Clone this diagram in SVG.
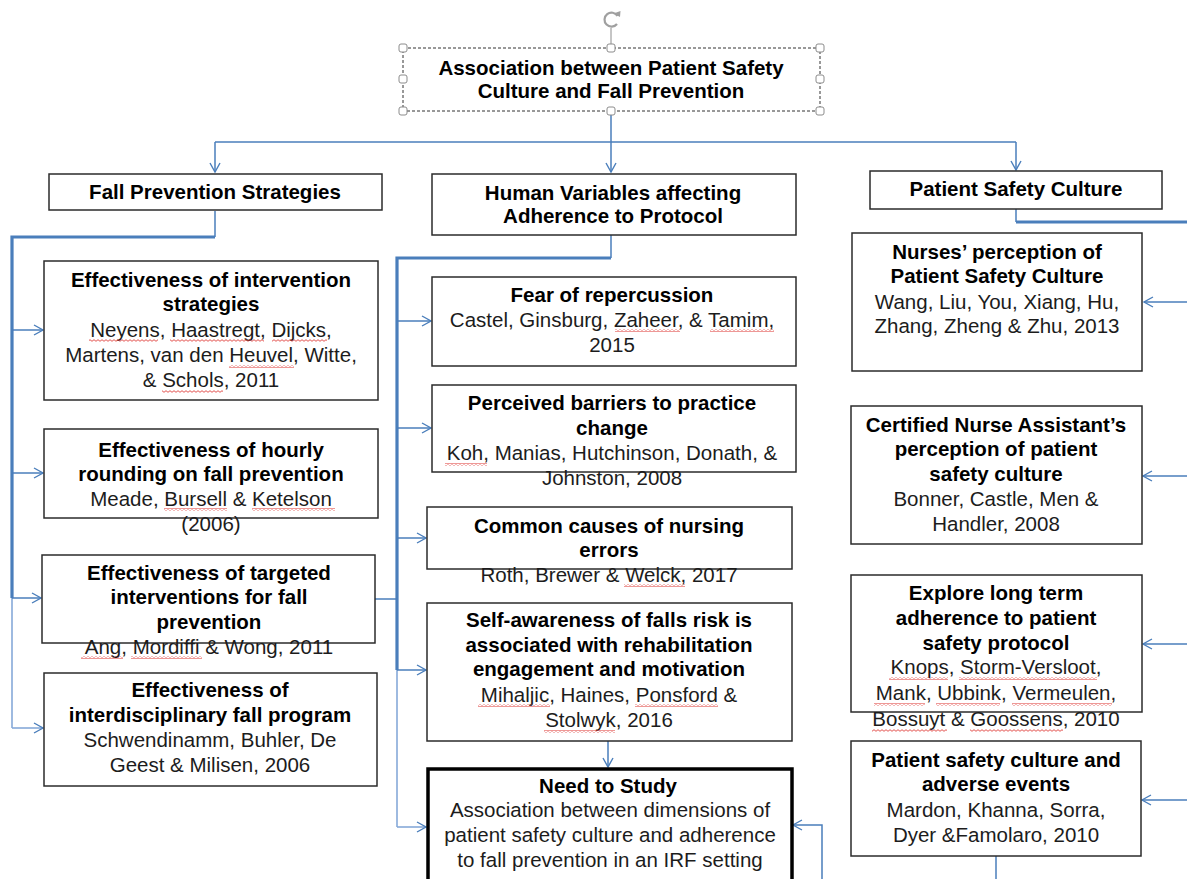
<svg xmlns="http://www.w3.org/2000/svg" width="1187" height="879" viewBox="0 0 1187 879">
<style>
.box{fill:#fff;stroke:#2b2b2b;stroke-width:1.5}
.t{font-family:"Liberation Sans",Arial,sans-serif;font-size:20.5px;text-anchor:middle}
.b{font-weight:bold;fill:#000}
.r{fill:#1c1c1c}
.c{fill:none;stroke:#4a7ebb;stroke-width:1.5}
.k{fill:none;stroke:#4a7ebb;stroke-width:3.2}
.l{fill:none;stroke:#86a9d9;stroke-width:1.6}
.h{fill:#fff;stroke:#8c8c8c;stroke-width:1}
.sq{fill:url(#sq)}
</style>
<defs>
<marker id="a" markerWidth="12" markerHeight="12" refX="10" refY="6" orient="auto" markerUnits="userSpaceOnUse">
<path d="M1,1 L10,6 L1,11" fill="none" stroke="#4a7ebb" stroke-width="1.4"/>
</marker>
<pattern id="sq" width="4" height="3" patternUnits="userSpaceOnUse">
<path d="M0,2.3 L2,0.7 L4,2.3" fill="none" stroke="#e0403c" stroke-width="0.9"/>
</pattern>
</defs>
<rect width="1187" height="879" fill="#fff"/>

<g id="connectors">
<path class="c" d="M611,111 V142"/>
<path class="c" d="M215,142 H1016"/>
<path class="c" d="M215,142 V172" marker-end="url(#a)"/>
<path class="c" d="M611,142 V172" marker-end="url(#a)"/>
<path class="c" d="M1016,142 V170" marker-end="url(#a)"/>
<path class="c" d="M215,211 V237"/>
<path class="k" d="M215,237 H12 V598"/>
<path class="l" d="M12,598 V728"/>
<path class="c" d="M12,330 H43" marker-end="url(#a)"/>
<path class="c" d="M12,473 H43" marker-end="url(#a)"/>
<path class="c" d="M12,598 H41" marker-end="url(#a)"/>
<path class="l" d="M12,728 H43" marker-end="url(#a)"/>
<path class="c" d="M611,235 V258"/>
<path class="k" d="M611,258 H397 V670"/>
<path class="l" d="M397,670 V827"/>
<path class="c" d="M397,321 H431" marker-end="url(#a)"/>
<path class="c" d="M397,428 H431" marker-end="url(#a)"/>
<path class="c" d="M397,538 H426" marker-end="url(#a)"/>
<path class="c" d="M397,670 H426" marker-end="url(#a)"/>
<path class="l" d="M397,827 H426" marker-end="url(#a)"/>
<path class="c" d="M375,599 H397"/>
<path class="c" d="M608,741 V767" marker-end="url(#a)"/>
<path class="c" d="M822,879 V825 H793" marker-end="url(#a)"/>
<path class="c" d="M1016,209 V222"/>
<path class="k" d="M1016,222 H1187"/>
<path class="c" d="M1187,302 H1144" marker-end="url(#a)"/>
<path class="c" d="M1187,476 H1143" marker-end="url(#a)"/>
<path class="c" d="M1187,644 H1143" marker-end="url(#a)"/>
<path class="c" d="M1187,800 H1142" marker-end="url(#a)"/>
<path class="c" d="M996,856 V879"/>
</g>

<g id="title">
<rect x="403" y="48" width="417" height="63" fill="#fff" stroke="#333" stroke-width="1" stroke-dasharray="3 2"/>
<line x1="611" y1="28" x2="611" y2="44" stroke="#8c8c8c" stroke-width="1"/>
<path d="M617,24 A7,7 0 1 1 617.5,16" fill="none" stroke="#a0a0a0" stroke-width="2.2"/>
<path d="M613.5,13.5 L620,17 L620.5,11 Z" fill="#a0a0a0"/>
<rect class="h" x="399" y="44" width="8" height="8" rx="2"/>
<rect class="h" x="607" y="44" width="8" height="8" rx="2"/>
<rect class="h" x="816" y="44" width="8" height="8" rx="2"/>
<rect class="h" x="399" y="75" width="8" height="8" rx="2"/>
<rect class="h" x="816" y="75" width="8" height="8" rx="2"/>
<rect class="h" x="399" y="107" width="8" height="8" rx="2"/>
<rect class="h" x="607" y="107" width="8" height="8" rx="2"/>
<rect class="h" x="816" y="107" width="8" height="8" rx="2"/>
<text class="t b" x="611" y="75">Association between Patient Safety</text>
<text class="t b" x="611" y="98">Culture and Fall Prevention</text>
</g>

<g id="fall-prevention-strategies">
<rect class="box" x="49" y="174" width="333" height="36"/>
<text class="t b" x="215" y="199">Fall Prevention Strategies</text>
</g>
<g id="human-variables">
<rect class="box" x="432" y="174" width="364" height="61"/>
<text class="t b" x="613" y="200">Human Variables affecting</text>
<text class="t b" x="613" y="223">Adherence to Protocol</text>
</g>
<g id="patient-safety-culture">
<rect class="box" x="870" y="171" width="292" height="38"/>
<text class="t b" x="1016" y="196">Patient Safety Culture</text>
</g>

<g id="intervention-strategies">
<rect class="box" x="44" y="261" width="334" height="139"/>
<text class="t b" x="211" y="287">Effectiveness of intervention</text>
<text class="t b" x="211" y="311">strategies</text>
<text class="t r" x="211" y="337">Neyens, Haastregt, Dijcks,</text>
<text class="t r" x="211" y="362">Martens, van den Heuvel, Witte,</text>
<text class="t r" x="211" y="387">&amp; Schols, 2011</text>
<rect class="sq" x="89" y="339" width="69" height="3"/>
<rect class="sq" x="170" y="339" width="94" height="3"/>
<rect class="sq" x="272" y="339" width="55" height="3"/>
<rect class="sq" x="229" y="365" width="65" height="3"/>
<rect class="sq" x="162" y="390" width="61" height="3"/>
</g>
<g id="hourly-rounding">
<rect class="box" x="44" y="429" width="334" height="89"/>
<text class="t b" x="211" y="457">Effectiveness of hourly</text>
<text class="t b" x="211" y="481">rounding on fall prevention</text>
<text class="t r" x="211" y="506">Meade, Bursell &amp; Ketelson</text>
<text class="t r" x="211" y="531">(2006)</text>
<rect class="sq" x="164" y="508" width="63" height="3"/>
<rect class="sq" x="252" y="508" width="83" height="3"/>
</g>
<g id="targeted-interventions">
<rect class="box" x="42" y="555" width="333" height="88"/>
<text class="t b" x="209" y="580">Effectiveness of targeted</text>
<text class="t b" x="209" y="604">interventions for fall</text>
<text class="t b" x="209" y="629">prevention</text>
<text class="t r" x="209" y="654">Ang, Mordiffi &amp; Wong, 2011</text>
<rect class="sq" x="81" y="656" width="42" height="3"/>
<rect class="sq" x="131" y="656" width="71" height="3"/>
</g>
<g id="interdisciplinary-program">
<rect class="box" x="44" y="673" width="333" height="113"/>
<text class="t b" x="210" y="697">Effectiveness of</text>
<text class="t b" x="210" y="722">interdisciplinary fall program</text>
<text class="t r" x="210" y="747">Schwendinamm, Buhler, De</text>
<text class="t r" x="210" y="772">Geest &amp; Milisen, 2006</text>
</g>

<g id="fear-of-repercussion">
<rect class="box" x="432" y="277" width="364" height="89"/>
<text class="t b" x="612" y="302">Fear of repercussion</text>
<text class="t r" x="612" y="327">Castel, Ginsburg, Zaheer, &amp; Tamim,</text>
<text class="t r" x="612" y="352">2015</text>
<rect class="sq" x="615" y="329" width="65" height="3"/>
<rect class="sq" x="710" y="329" width="64" height="3"/>
</g>
<g id="perceived-barriers">
<rect class="box" x="432" y="385" width="364" height="87"/>
<text class="t b" x="612" y="410">Perceived barriers to practice</text>
<text class="t b" x="612" y="435">change</text>
<text class="t r" x="612" y="460">Koh, Manias, Hutchinson, Donath, &amp;</text>
<text class="t r" x="612" y="485">Johnston, 2008</text>
<rect class="sq" x="445" y="463" width="42" height="3"/>
</g>
<g id="nursing-errors">
<rect class="box" x="427" y="507" width="365" height="62"/>
<text class="t b" x="609" y="533">Common causes of nursing</text>
<text class="t b" x="609" y="557">errors</text>
<text class="t r" x="609" y="582">Roth, Brewer &amp; Welck, 2017</text>
<rect class="sq" x="624" y="584" width="61" height="3"/>
</g>
<g id="self-awareness">
<rect class="box" x="427" y="603" width="365" height="138"/>
<text class="t b" x="609" y="627">Self-awareness of falls risk is</text>
<text class="t b" x="609" y="652">associated with rehabilitation</text>
<text class="t b" x="609" y="676">engagement and motivation</text>
<text class="t r" x="609" y="702">Mihaljic, Haines, Ponsford &amp;</text>
<text class="t r" x="609" y="727">Stolwyk, 2016</text>
<rect class="sq" x="478" y="704" width="72" height="3"/>
<rect class="sq" x="635" y="704" width="83" height="3"/>
<rect class="sq" x="544" y="730" width="71" height="3"/>
</g>
<g id="need-to-study">
<rect x="428" y="769" width="364" height="130" fill="#fff" stroke="#000" stroke-width="3.5"/>
<text class="t b" x="608" y="793">Need to Study</text>
<text class="t r" x="610" y="817">Association between dimensions of</text>
<text class="t r" x="610" y="842">patient safety culture and adherence</text>
<text class="t r" x="610" y="867">to fall prevention in an IRF setting</text>
</g>

<g id="nurses-perception">
<rect class="box" x="852" y="233" width="290" height="138"/>
<text class="t b" x="997" y="259">Nurses’ perception of</text>
<text class="t b" x="997" y="283">Patient Safety Culture</text>
<text class="t r" x="997" y="309">Wang, Liu, You, Xiang, Hu,</text>
<text class="t r" x="997" y="333">Zhang, Zheng &amp; Zhu, 2013</text>
</g>
<g id="cna-perception">
<rect class="box" x="851" y="406" width="291" height="138"/>
<text class="t b" x="996" y="432">Certified Nurse Assistant’s</text>
<text class="t b" x="996" y="456">perception of patient</text>
<text class="t b" x="996" y="481">safety culture</text>
<text class="t r" x="996" y="506">Bonner, Castle, Men &amp;</text>
<text class="t r" x="996" y="531">Handler, 2008</text>
</g>
<g id="long-term-adherence">
<rect class="box" x="851" y="575" width="291" height="137"/>
<text class="t b" x="996" y="600">Explore long term</text>
<text class="t b" x="996" y="625">adherence to patient</text>
<text class="t b" x="996" y="650">safety protocol</text>
<text class="t r" x="996" y="674">Knops, Storm-Versloot,</text>
<text class="t r" x="996" y="700">Mank, Ubbink, Vermeulen,</text>
<text class="t r" x="996" y="726">Bossuyt &amp; Goossens, 2010</text>
<rect class="sq" x="889" y="677" width="59" height="3"/>
<rect class="sq" x="959" y="677" width="138" height="3"/>
<rect class="sq" x="874" y="703" width="51" height="3"/>
<rect class="sq" x="936" y="703" width="64" height="3"/>
<rect class="sq" x="1012" y="703" width="100" height="3"/>
<rect class="sq" x="872" y="729" width="75" height="3"/>
<rect class="sq" x="970" y="729" width="93" height="3"/>
</g>
<g id="adverse-events">
<rect class="box" x="851" y="741" width="290" height="115"/>
<text class="t b" x="996" y="767">Patient safety culture and</text>
<text class="t b" x="996" y="791">adverse events</text>
<text class="t r" x="996" y="817">Mardon, Khanna, Sorra,</text>
<text class="t r" x="996" y="842">Dyer &amp;Famolaro, 2010</text>
</g>
</svg>
